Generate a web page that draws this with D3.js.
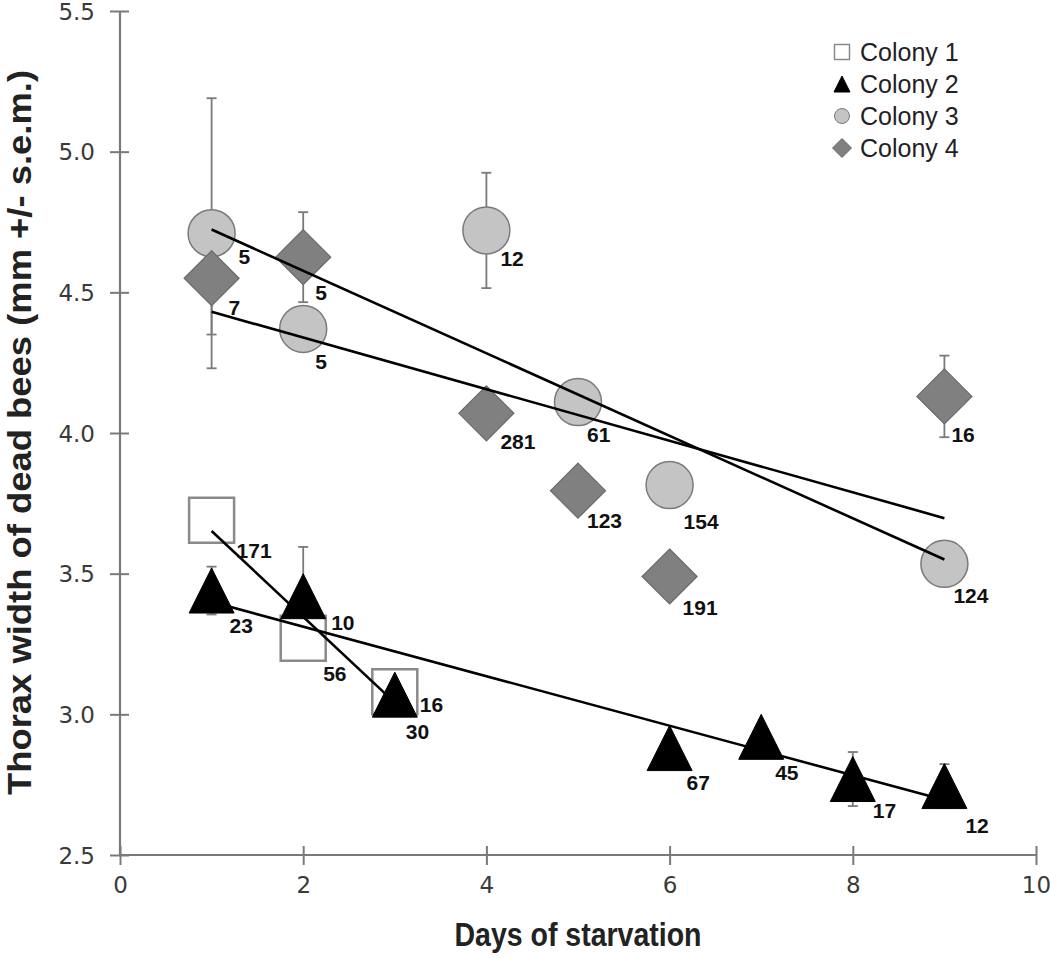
<!DOCTYPE html>
<html><head><meta charset="utf-8">
<script src="https://cdn.jsdelivr.net/npm/d3@7"></script>
<style>body{margin:0;background:#fff}svg{display:block}</style>
</head><body><svg id="chart" width="1050" height="958"></svg>
<script>
// ---- data ----
const seriesNames = ["Colony 1", "Colony 2", "Colony 3", "Colony 4"];
const days1 = [1, 2, 3];
const colony1 = [3.69, 3.27, 3.08];
const err1 = [0, 0, 0];
const n1 = [171, 56, 16];
const days2 = [1, 2, 3, 6, 7, 8, 9];
const colony2 = [3.44, 3.42, 3.07, 2.88, 2.92, 2.77, 2.745];
const err2 = [0.085, 0.175, 0, 0, 0, 0.096, 0.078];
const n2 = [23, 10, 30, 67, 45, 17, 12];
const days3 = [1, 2, 4, 5, 6, 9];
const colony3 = [4.71, 4.37, 4.72, 4.11, 3.815, 3.535];
const err3 = [0.48, 0, 0.205, 0, 0, 0];
const n3 = [5, 5, 12, 61, 154, 124];
const days4 = [1, 2, 4, 5, 6, 9];
const colony4 = [4.55, 4.625, 4.07, 3.795, 3.49, 4.13];
const err4 = [0.2, 0.16, 0, 0, 0, 0.145];
const n4 = [7, 5, 281, 123, 191, 16];
const xTicks = [0, 2, 4, 6, 8, 10];
const yTicks = [2.5, 3.0, 3.5, 4.0, 4.5, 5.0, 5.5];
const xTitle = "Days of starvation";
const yTitle = "Thorax width of dead bees (mm +/- s.e.m.)";

// ---- layout: pixel nudges of the n-labels (left edge, baseline) from each marker centre ----
const labelNudges = [
  [[25, 38], [20, 43], [25, 20]],
  [[18, 42], [28, 34], [11, 44], [17, 42], [14, 43], [20, 39], [21, 47]],
  [[27, 31], [12, 40], [14, 36], [9, 40], [14, 44], [9, 39]],
  [[17, 37], [12, 43], [14, 36], [9, 37], [13, 39], [7, 46]]
];

// ---- setup ----
const svg = d3.select("#chart");
const x = d3.scaleLinear().domain([0, 10]).range([120, 1036]);
const y = d3.scaleLinear().domain([2.5, 5.5]).range([855, 11]);

const shapes = {
  square: s => `M${-s/2},${-s/2}H${s/2}V${s/2}H${-s/2}Z`,
  triangle: s => `M0,${-s/2}L${s/2},${s/2}H${-s/2}Z`,
  circle: s => `M${-s/2},0A${s/2},${s/2} 0 1,0 ${s/2},0A${s/2},${s/2} 0 1,0 ${-s/2},0Z`,
  diamond: s => `M0,${-s/2}L${s/2},0L0,${s/2}L${-s/2},0Z`
};
const styles = [
  {shape: "square", size: 45, fill: "#ffffff", stroke: "#8a8a8a", sw: 2.5},
  {shape: "triangle", size: 45, fill: "#000000", stroke: "#000000", sw: 1},
  {shape: "circle", size: 47, fill: "#c4c4c4", stroke: "#7a7a7a", sw: 1.5},
  {shape: "diamond", size: 55, fill: "#808080", stroke: "#6a6a6a", sw: 1.2}
];
const series = [
  {days: days1, vals: colony1, errs: err1, ns: n1},
  {days: days2, vals: colony2, errs: err2, ns: n2},
  {days: days3, vals: colony3, errs: err3, ns: n3},
  {days: days4, vals: colony4, errs: err4, ns: n4}
].map((s, i) => ({...s, style: styles[i], name: seriesNames[i],
  pts: s.days.map((d, j) => ({d, v: s.vals[j], e: s.errs[j], n: s.ns[j], off: labelNudges[i][j]}))}));

// ---- axes ----
const axisColor = "#7a7a7a";
const yAxis = svg.append("g").attr("transform", `translate(${x(0)},0)`)
  .call(d3.axisLeft(y).tickValues(yTicks).tickFormat(d3.format(".1f")).tickSize(10).tickPadding(14));
const xAxis = svg.append("g").attr("transform", `translate(0,${y(2.5)})`)
  .call(d3.axisBottom(x).tickValues(xTicks).tickFormat(d3.format("d")).tickSize(10).tickPadding(14));
[yAxis, xAxis].forEach(g => {
  g.select(".domain").attr("stroke", axisColor).attr("stroke-width", 2.2);
  g.selectAll(".tick line").attr("stroke", axisColor).attr("stroke-width", 2);
  g.selectAll(".tick text").attr("fill", "#3a3a3a")
    .style("font-family", "'DejaVu Sans', sans-serif").style("font-size", "23px");
});
yAxis.selectAll(".tick line").attr("x1", 9).attr("x2", -10);
yAxis.selectAll(".tick text").attr("x", -25).attr("dy", "0.36em");
xAxis.selectAll(".tick line").attr("y1", -9).attr("y2", 10);
xAxis.selectAll(".tick text").attr("y", 22);
yAxis.select(".domain").attr("d", `M0,${y(5.5)}V${y(2.5)}`);
xAxis.select(".domain").attr("d", `M${x(0)},0H${x(10)}`);

// titles
svg.append("text").attr("x", 578).attr("y", 946).attr("text-anchor", "middle")
  .style("font-family", "'Liberation Sans', Arial, sans-serif").style("font-size", "34px")
  .style("font-weight", "bold").attr("fill", "#222")
  .attr("textLength", 247).attr("lengthAdjust", "spacingAndGlyphs").text(xTitle);
svg.append("text").attr("transform", `translate(31,${(70 + 795) / 2}) rotate(-90)`)
  .attr("text-anchor", "middle")
  .style("font-family", "'Liberation Sans', Arial, sans-serif").style("font-size", "34px")
  .style("font-weight", "bold").attr("fill", "#222")
  .attr("textLength", 725).attr("lengthAdjust", "spacingAndGlyphs").text(yTitle);

// ---- error bars ----
const eb = svg.append("g");
series.forEach(s => {
  s.pts.filter(p => p.e > 0).forEach(p => {
    const cx = x(p.d), y1 = y(p.v + p.e), y2 = y(p.v - p.e);
    eb.append("line").attr("x1", cx).attr("x2", cx).attr("y1", y1).attr("y2", y2)
      .attr("stroke", axisColor).attr("stroke-width", 1.8);
    [y1, y2].forEach(yy => eb.append("line").attr("x1", cx - 5).attr("x2", cx + 5)
      .attr("y1", yy).attr("y2", yy).attr("stroke", axisColor).attr("stroke-width", 1.8));
  });
});

// ---- markers ----
series.forEach(s => {
  svg.append("g").selectAll("path").data(s.pts).join("path")
    .attr("transform", p => `translate(${x(p.d)},${y(p.v)})`)
    .attr("d", shapes[s.style.shape](s.style.size))
    .attr("fill", s.style.fill).attr("stroke", s.style.stroke).attr("stroke-width", s.style.sw);
});

// ---- linear trend lines (least squares fit of each colony) ----
function fit(xs, ys) {
  const mx = d3.mean(xs), my = d3.mean(ys);
  const b = d3.sum(xs, (xv, i) => (xv - mx) * (ys[i] - my)) / d3.sum(xs, xv => (xv - mx) ** 2);
  return xv => my + b * (xv - mx);
}
series.forEach(s => {
  const f = fit(s.days, s.vals);
  const x0 = d3.min(s.days), x1 = d3.max(s.days);
  svg.append("path").attr("d", d3.line().x(d => x(d)).y(d => y(f(d)))([x0, x1]))
    .attr("stroke", "#000").attr("stroke-width", 2.6).attr("fill", "none");
});

// ---- n labels ----
series.forEach(s => {
  svg.append("g").selectAll("text").data(s.pts).join("text")
    .attr("x", p => x(p.d) + p.off[0]).attr("y", p => y(p.v) + p.off[1])
    .style("font-family", "'Liberation Sans', Arial, sans-serif").style("font-size", "21px")
    .style("font-weight", "bold").attr("fill", "#111")
    .text(p => p.n);
});

// ---- legend ----
const lg = svg.append("g").attr("transform", "translate(842,52)");
series.forEach((s, i) => {
  const row = lg.append("g").attr("transform", `translate(0,${i * 32})`);
  const small = {square: 15, triangle: 16, circle: 15, diamond: 19}[s.style.shape];
  row.append("path").attr("d", shapes[s.style.shape](small))
    .attr("fill", s.style.fill).attr("stroke", s.style.stroke).attr("stroke-width", s.style.shape === "square" ? 1.5 : 1);
  row.append("text").attr("x", 18).attr("y", 9)
    .style("font-family", "'Liberation Sans', Arial, sans-serif").style("font-size", "25px")
    .attr("fill", "#222").text(s.name);
});
</script>
</body></html>
